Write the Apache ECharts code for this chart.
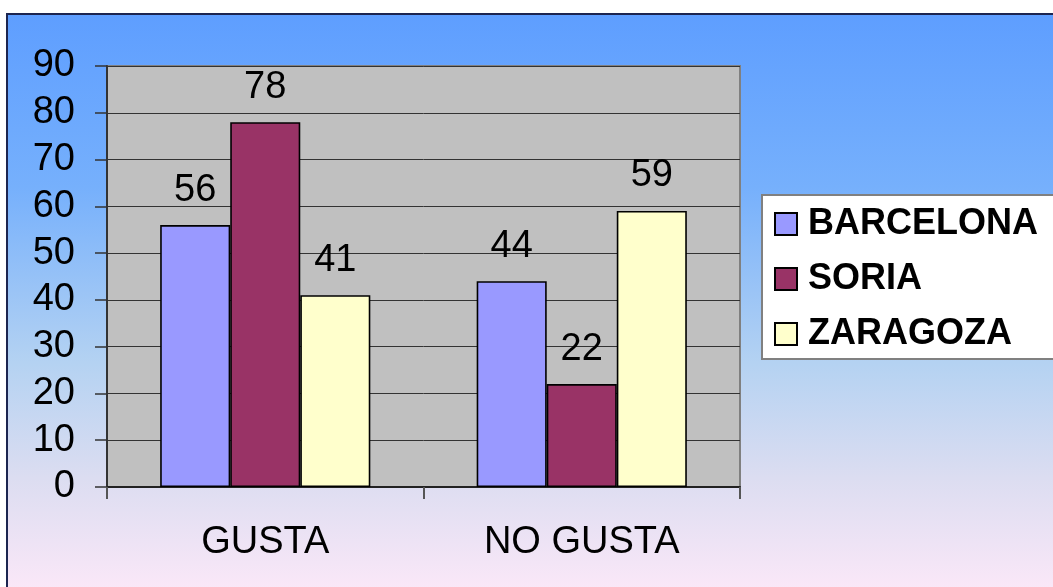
<!DOCTYPE html>
<html>
<head>
<meta charset="utf-8">
<style>
  html, body { margin: 0; padding: 0; background: #ffffff; }
  #chart { width: 1053px; height: 587px; }
</style>
<script src="https://cdn.jsdelivr.net/npm/echarts@6/dist/echarts.min.js"></script>
</head>
<body>
<div id="chart"></div>
<script>
// Categories and per-city values
const categories = ['GUSTA', 'NO GUSTA'];
const cities = ['BARCELONA', 'SORIA', 'ZARAGOZA'];
const barcelona = [56, 44];
const soria = [78, 22];
const zaragoza = [41, 59];
const cityColors = ['#9999FF', '#993366', '#FFFFCC'];

const FONT = '"Liberation Sans", Arial, sans-serif';

const chart = echarts.init(document.getElementById('chart'), null, { renderer: 'canvas' });

function barSeries(name, data, color) {
  return {
    name: name,
    type: 'bar',
    data: data,
    barGap: '0%',
    barCategoryGap: '33.6%',
    itemStyle: { color: color, borderColor: '#000000', borderWidth: 1.6 },
    label: {
      show: true,
      position: 'top',
      distance: 16,
      color: '#000000',
      fontFamily: FONT,
      fontSize: 38
    },
    emphasis: { disabled: true }
  };
}

const option = {
  animation: false,
  graphic: [{
    type: 'rect',
    z: -10,
    silent: true,
    shape: { x: 7, y: 14, width: 1060, height: 580 },
    style: {
      fill: new echarts.graphic.LinearGradient(0, 0, 0, 1, [
        { offset: 0, color: '#5E9EFF' },
        { offset: 0.3, color: '#76B0FC' },
        { offset: 0.6, color: '#B4D2F2' },
        { offset: 0.8, color: '#DCDDF1' },
        { offset: 1, color: '#FCE8F8' }
      ]),
      stroke: '#1C2550',
      lineWidth: 2
    }
  }],
  grid: {
    left: 107,
    right: 313,
    top: 66,
    bottom: 100,
    show: true,
    backgroundColor: '#C0C0C0',
    borderColor: '#808080',
    borderWidth: 2
  },
  legend: {
    orient: 'vertical',
    left: 762,
    top: 195,
    data: cities,
    icon: 'rect',
    itemWidth: 22,
    itemHeight: 22,
    itemGap: 19,
    padding: [11, 40, 7, 12],
    backgroundColor: '#FFFFFF',
    borderColor: '#808080',
    borderWidth: 2,
    selectedMode: false,
    textStyle: {
      fontFamily: FONT,
      fontSize: 36,
      fontWeight: 'bold',
      color: '#000000',
      padding: [0, 0, 0, 6]
    }
  },
  xAxis: {
    type: 'category',
    data: categories,
    axisLine: { show: true, lineStyle: { color: '#222222', width: 2 } },
    axisTick: { show: true, length: 12, lineStyle: { color: '#555555', width: 2 } },
    axisLabel: {
      margin: 37,
      color: '#000000',
      fontFamily: FONT,
      fontSize: 38
    }
  },
  yAxis: {
    type: 'value',
    min: 0,
    max: 90,
    interval: 10,
    axisLine: { show: true, lineStyle: { color: '#333333', width: 2 } },
    axisTick: { show: true, length: 12, lineStyle: { color: '#333333', width: 1.5 } },
    splitLine: { show: true, lineStyle: { color: '#333333', width: 1 } },
    axisLabel: {
      margin: 32,
      color: '#000000',
      fontFamily: FONT,
      fontSize: 38
    }
  },
  series: [
    barSeries(cities[0], barcelona, cityColors[0]),
    barSeries(cities[1], soria, cityColors[1]),
    barSeries(cities[2], zaragoza, cityColors[2])
  ]
};

chart.setOption(option);
</script>
</body>
</html>
